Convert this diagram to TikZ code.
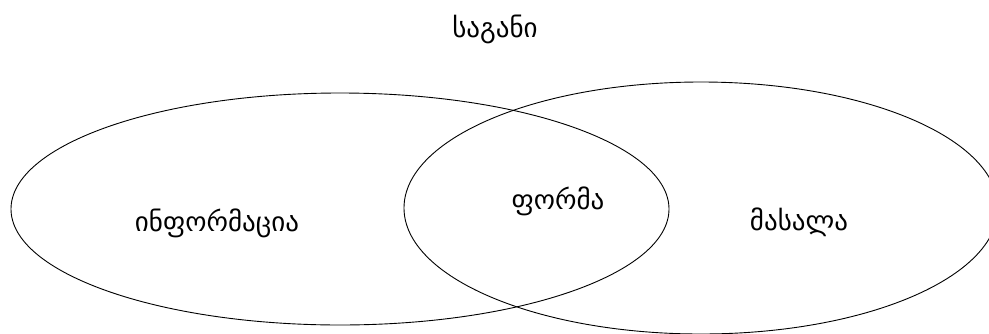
\documentclass[tikz,border=0pt]{standalone}
\usepackage{fontspec}
\newfontfamily\geofont{DejaVu Sans}
\begin{document}
\begin{tikzpicture}[x=1pt,y=-1pt,
  venn/.style={draw=black,line width=0.9pt},
  lbl/.style={font=\geofont\fontsize{27}{31}\selectfont,inner sep=0pt}]
\useasboundingbox (0,0) rectangle (989,333);
\begin{scope}
\clip (0,0) rectangle (989,333);
\draw[venn] (340,209) ellipse [x radius=329, y radius=116];
\draw[venn] (701,208) ellipse [x radius=297, y radius=126];
\end{scope}
\node[lbl] (title) at (495,29) {საგანი};
\node[lbl] (info) at (217,223) {ინფორმაცია};
\node[lbl] (forma) at (558,201) {ფორმა};
\node[lbl] (masala) at (799,222) {მასალა};
\end{tikzpicture}
\end{document}
